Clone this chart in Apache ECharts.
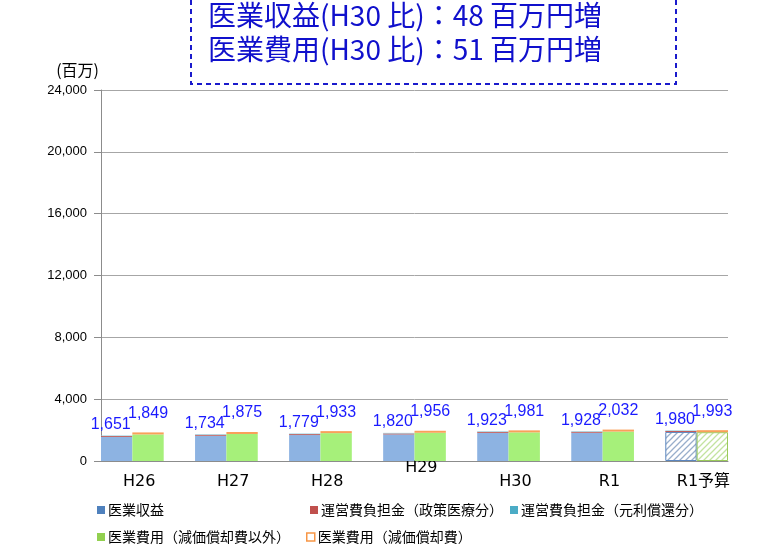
<!DOCTYPE html>
<html>
<head>
<meta charset="utf-8">
<script src="https://cdn.jsdelivr.net/npm/echarts@6/dist/echarts.min.js"></script>
<style>
  html, body { margin: 0; padding: 0; background: #fff; }
  #chart { width: 759px; height: 551px; }
</style>
</head>
<body>
<div id="chart"></div>
<script>
// 年度
const groups = ['H26', 'H27', 'H28', 'H29', 'H30', 'R1', 'R1予算'];
// 合計（ラベル表示用）
const revTotal = [1651, 1734, 1779, 1820, 1923, 1928, 1980];
const expTotal = [1849, 1875, 1933, 1956, 1981, 2032, 1993];
// 収益の内訳
const medicalRevenue = [1551, 1634, 1679, 1720, 1823, 1828, 1880];
const policySubsidy = [60, 60, 60, 60, 60, 60, 60];
const debtSubsidy = [40, 40, 40, 40, 40, 40, 40];
// 費用の内訳
const expNonDepr = [1719, 1745, 1803, 1826, 1851, 1902, 1863];
const expDepr = [130, 130, 130, 130, 130, 130, 130];

const titleLines = ['医業収益(H30 比)：48 百万円増', '医業費用(H30 比)：51 百万円増'];

const budgetIdx = groups.length - 1;
const nSlots = groups.length * 3 - 1;

// 1グループ = 収益スロット + 費用スロット + 空きスロット
const slots = [];
for (let i = 0; i < nSlots; i++) {
  slots.push(i % 3 === 0 ? groups[i / 3] : 'gap' + i);
}

function hatch(line) {
  const c = document.createElement('canvas');
  c.width = 6; c.height = 6;
  const ctx = c.getContext('2d');
  ctx.fillStyle = '#fff';
  ctx.fillRect(0, 0, 6, 6);
  ctx.strokeStyle = line;
  ctx.lineWidth = 1.3;
  ctx.beginPath();
  ctx.moveTo(0, 6); ctx.lineTo(6, 0);
  ctx.moveTo(-1, 1); ctx.lineTo(1, -1);
  ctx.moveTo(5, 7); ctx.lineTo(7, 5);
  ctx.stroke();
  return { image: c, repeat: 'repeat' };
}

function toSlots(values, offset, budgetStyle) {
  const out = new Array(nSlots).fill('-');
  values.forEach((v, k) => {
    if (k === budgetIdx && budgetStyle) {
      out[k * 3 + offset] = { value: v, itemStyle: budgetStyle };
    } else {
      out[k * 3 + offset] = v;
    }
  });
  return out;
}

const fmt = v => v.toLocaleString('en-US');
const labelFont = 'Liberation Sans, Noto Sans CJK JP';

const names = [
  '医業収益',
  '運営費負担金（政策医療分）',
  '運営費負担金（元利償還分）',
  '医業費用（減価償却費以外）',
  '医業費用（減価償却費）'
];

const chart = echarts.init(document.getElementById('chart'));

const legendBase = {
  padding: 0,
  itemWidth: 8,
  itemHeight: 8,
  itemGap: 10,
  icon: 'rect',
  textStyle: { fontSize: 14, color: '#000', fontFamily: 'Noto Sans CJK JP', padding: [0, 0, 0, -2] }
};

chart.setOption({
  animation: false,
  backgroundColor: '#fff',
  grid: { left: 101, right: 31, top: 90, bottom: 90 },
  graphic: [
    {
      type: 'rect',
      shape: { x: 191, y: -10, width: 485, height: 94 },
      style: { fill: '#fff', stroke: '#1A1ACC', lineWidth: 2, lineDash: [5, 4] },
      z: 10
    },
    {
      type: 'text', left: 208, top: 1, z: 11,
      style: { text: titleLines[0], fill: '#1010CC', fontSize: 28, fontFamily: 'Noto Sans CJK JP' }
    },
    {
      type: 'text', left: 208, top: 35, z: 11,
      style: { text: titleLines[1], fill: '#1010CC', fontSize: 28, fontFamily: 'Noto Sans CJK JP' }
    }
  ],
  legend: [
    Object.assign({}, legendBase, { left: 97, top: 503, data: [{ name: names[0], itemStyle: { color: '#4F81BD' } }] }),
    Object.assign({}, legendBase, { left: 310, top: 503, data: [{ name: names[1], itemStyle: { color: '#C0504D' } }] }),
    Object.assign({}, legendBase, { left: 510, top: 503, data: [{ name: names[2], itemStyle: { color: '#4BACC6' } }] }),
    Object.assign({}, legendBase, { left: 97, top: 530, data: [{ name: names[3], itemStyle: { color: '#92D050' } }] }),
    Object.assign({}, legendBase, { left: 306, top: 530, data: [{ name: names[4], itemStyle: { color: '#fff', borderColor: '#F79646', borderWidth: 1.5 } }] })
  ],
  xAxis: {
    type: 'category',
    data: slots,
    axisLine: { lineStyle: { color: '#8C8C8C', width: 1 } },
    axisTick: { interval: 0, length: 5, lineStyle: { color: '#8C8C8C' } },
    axisLabel: {
      interval: (i) => i % 3 === 0,
      formatter: (v) => (v === 'H29' ? v : '\n' + v),
      margin: 0.5,
      lineHeight: 13.5,
      padding: [0, 0, 0, 45],
      fontSize: 16,
      color: '#000',
      fontFamily: 'DejaVu Sans, Noto Sans CJK JP'
    }
  },
  yAxis: {
    type: 'value',
    min: 0,
    max: 24000,
    interval: 4000,
    name: '(百万)',
    nameLocation: 'end',
    nameGap: 12,
    nameTextStyle: { align: 'right', fontSize: 16, color: '#000', fontFamily: 'Noto Sans CJK JP', padding: [0, 2, 0, 0] },
    axisLine: { show: true, lineStyle: { color: '#8C8C8C' } },
    axisTick: { show: true, length: 7, lineStyle: { color: '#8C8C8C' } },
    axisLabel: { formatter: fmt, margin: 14, fontSize: 13, color: '#000', fontFamily: labelFont },
    splitLine: { lineStyle: { color: '#A6A6A6' } }
  },
  series: [
    {
      name: names[0], type: 'bar', stack: 'all', barCategoryGap: '0%',
      itemStyle: { color: '#8DB3E2' },
      data: toSlots(medicalRevenue, 0, { color: hatch('#98AECB'), borderColor: '#5B86BF', borderWidth: 1 })
    },
    {
      name: names[1], type: 'bar', stack: 'all', barCategoryGap: '0%',
      itemStyle: { color: '#C0504D' },
      data: toSlots(policySubsidy, 0)
    },
    {
      name: names[2], type: 'bar', stack: 'all', barCategoryGap: '0%',
      itemStyle: { color: '#93CDDD' },
      data: toSlots(debtSubsidy, 0),
      label: {
        show: true, position: 'top', distance: 3, offset: [-6, 0],
        color: '#1A1AFF', fontSize: 16, fontFamily: labelFont,
        formatter: (p) => fmt(revTotal[Math.floor(p.dataIndex / 3)])
      }
    },
    {
      name: names[3], type: 'bar', stack: 'all', barCategoryGap: '0%',
      itemStyle: { color: '#A6F07A' },
      data: toSlots(expNonDepr, 1, { color: hatch('#C3E3A0'), borderColor: '#9BCB5A', borderWidth: 1 })
    },
    {
      name: names[4], type: 'bar', stack: 'all', barCategoryGap: '0%',
      itemStyle: { color: '#F9A05A' },
      data: toSlots(expDepr, 1),
      label: {
        show: true, position: 'top', distance: 3, offset: [0, -8],
        color: '#1A1AFF', fontSize: 16, fontFamily: labelFont,
        formatter: (p) => fmt(expTotal[Math.floor(p.dataIndex / 3)])
      }
    }
  ]
});
</script>
</body>
</html>
